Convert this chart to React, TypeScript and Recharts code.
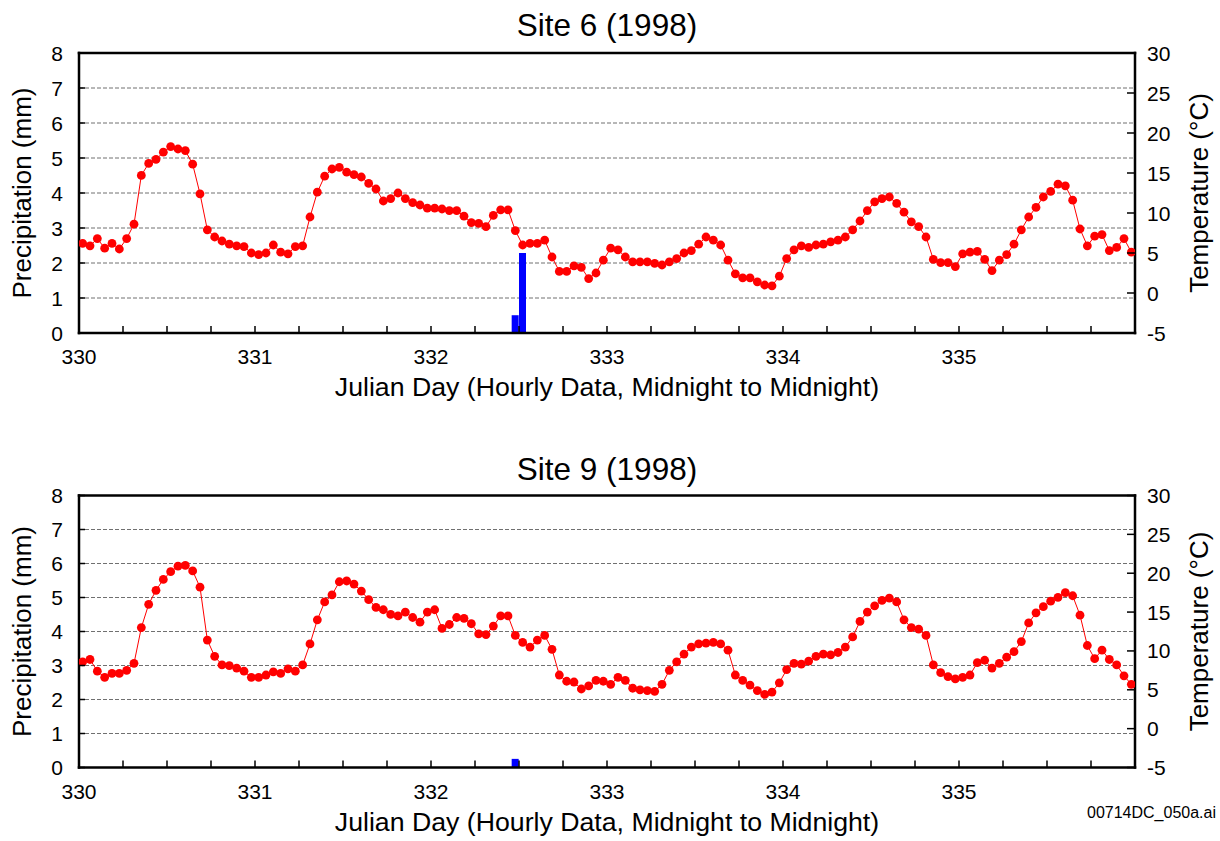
import React from 'react';
import {
  ComposedChart,
  Line,
  Bar,
  XAxis,
  YAxis,
  CartesianGrid,
  ReferenceLine,
} from 'recharts';

const FONT = '"Liberation Sans", Arial, Helvetica, sans-serif';

// Julian day range and labels
const firstDay = 330;
const lastDay = 336;
const dayLabels = [330, 331, 332, 333, 334, 335];

// Axis ticks
const precipTicks = [0, 1, 2, 3, 4, 5, 6, 7, 8];
const tempTicks = [-5, 0, 5, 10, 15, 20, 25, 30];

// Site 6: hourly air temperature (°C), hour 0 = midnight of day 330
const site6Temp = [
  6.2, 5.9, 6.8, 5.6, 6.2, 5.5, 6.8, 8.6, 14.7, 16.2, 16.7, 17.6,
  18.3, 18.0, 17.8, 16.1, 12.4, 7.9, 7.0, 6.5, 6.1, 5.9, 5.8, 5.0,
  4.8, 5.0, 6.0, 5.1, 4.9, 5.8, 5.9, 9.5, 12.6, 14.6, 15.5, 15.7,
  15.1, 14.8, 14.5, 13.7, 13.0, 11.5, 11.8, 12.5, 11.8, 11.3, 11.0, 10.6,
  10.6, 10.5, 10.3, 10.3, 9.6, 8.8, 8.7, 8.3, 9.7, 10.4, 10.4, 7.8,
  6.0, 6.2, 6.2, 6.6, 4.5, 2.7, 2.7, 3.4, 3.2, 1.8, 2.5, 4.1,
  5.6, 5.4, 4.5, 3.9, 3.9, 3.9, 3.7, 3.5, 3.9, 4.3, 5.0, 5.3,
  6.1, 7.0, 6.6, 6.0, 4.1, 2.4, 1.9, 1.9, 1.4, 1.0, 0.9, 2.1,
  4.3, 5.4, 5.9, 5.7, 6.0, 6.1, 6.4, 6.6, 7.0, 7.9, 9.0, 10.3,
  11.4, 11.8, 12.0, 11.2, 10.1, 8.9, 8.3, 7.0, 4.2, 3.8, 3.8, 3.3,
  4.9, 5.1, 5.2, 4.2, 2.8, 4.1, 4.8, 6.1, 7.9, 9.5, 10.7, 12.0,
  12.7, 13.6, 13.4, 11.6, 8.0, 5.9, 7.1, 7.3, 5.3, 5.7, 6.8, 5.1,
];
// Site 6: hours with recorded precipitation (mm)
const site6RainHours = [59, 60];
const site6RainMm = [0.508, 2.286];

// Site 9: hourly air temperature (°C)
const site9Temp = [
  8.6, 8.9, 7.4, 6.6, 7.1, 7.1, 7.5, 8.4, 13.0, 16.0, 17.8, 19.2,
  20.2, 20.9, 21.0, 20.3, 18.2, 11.4, 9.3, 8.2, 8.1, 7.8, 7.4, 6.6,
  6.6, 6.9, 7.3, 7.1, 7.7, 7.4, 8.2, 10.9, 14.0, 16.3, 17.2, 18.9,
  19.0, 18.6, 17.7, 16.6, 15.6, 15.3, 14.7, 14.5, 15.0, 14.3, 13.7, 15.0,
  15.3, 12.9, 13.4, 14.3, 14.2, 13.5, 12.2, 12.1, 13.2, 14.5, 14.5, 12.0,
  11.1, 10.5, 11.4, 12.0, 10.2, 6.9, 6.1, 6.0, 5.1, 5.5, 6.2, 6.1,
  5.7, 6.6, 6.2, 5.2, 5.0, 4.9, 4.8, 5.7, 7.5, 8.6, 9.6, 10.5,
  10.9, 11.0, 11.1, 10.9, 10.1, 6.9, 6.2, 5.6, 4.9, 4.4, 4.7, 5.9,
  7.6, 8.4, 8.3, 8.7, 9.3, 9.6, 9.5, 9.8, 10.5, 11.8, 13.8, 15.0,
  15.8, 16.5, 16.8, 16.3, 14.0, 13.0, 12.8, 12.0, 8.2, 7.2, 6.7, 6.4,
  6.6, 6.9, 8.5, 8.8, 7.8, 8.4, 9.2, 9.9, 11.2, 13.6, 14.9, 15.7,
  16.4, 16.9, 17.5, 17.1, 14.6, 10.7, 9.0, 10.1, 8.9, 8.2, 6.8, 5.7,
];
// Site 9: hours with recorded precipitation (mm)
const site9RainHours = [59];
const site9RainMm = [0.254];

// Tick marks every 6 hours along the day axis
const hourTicks: number[] = [];
for (let d = firstDay; d < lastDay; d++) {
  for (let q = 0; q < 4; q++) hourTicks.push(d + q * 0.25);
}
hourTicks.push(lastDay);

type Row = { day: number; temp: number; rain: number | null };

// Each hourly value is centred in its hour
function buildRows(temps: number[], rainHours: number[], rainMm: number[]): Row[] {
  return temps.map((t, h) => {
    const k = rainHours.indexOf(h);
    return {
      day: firstDay + (h + 0.5) / 24,
      temp: t,
      rain: k >= 0 ? rainMm[k] : null,
    };
  });
}

const site6Rows = buildRows(site6Temp, site6RainHours, site6RainMm);
const site9Rows = buildRows(site9Temp, site9RainHours, site9RainMm);

const frame = { stroke: '#000', strokeWidth: 2.5, strokeLinecap: 'square' as const };

const XTick = (props: any) => {
  const { x, y, payload } = props;
  const v = payload.value as number;
  const day = Math.round(v);
  const showLabel = Math.abs(v - day) < 1e-6 && dayLabels.includes(day);
  return (
    <g>
      <line x1={x} y1={y} x2={x} y2={y - 7} stroke="#000" strokeWidth={1.5} />
      {showLabel && (
        <text x={x} y={y + 31} textAnchor="middle" fontSize={21} fontFamily={FONT} fill="#000">
          {day}
        </text>
      )}
    </g>
  );
};

const LeftTick = (props: any) => {
  const { x, y, payload } = props;
  return (
    <g>
      <line x1={x} y1={y} x2={x + 6} y2={y} stroke="#000" strokeWidth={1.5} />
      <text x={x - 16} y={y + 7.5} textAnchor="end" fontSize={21} fontFamily={FONT} fill="#000">
        {payload.value}
      </text>
    </g>
  );
};

const RightTick = (props: any) => {
  const { x, y, payload } = props;
  return (
    <g>
      <line x1={x} y1={y} x2={x - 8} y2={y} stroke="#000" strokeWidth={1.5} />
      <text x={x + 12} y={y + 7.5} textAnchor="start" fontSize={21} fontFamily={FONT} fill="#000">
        {payload.value}
      </text>
    </g>
  );
};

const xTitle = (props: any) => {
  const vb = props.viewBox;
  return (
    <text x={vb.x + vb.width / 2} y={vb.y + 63} textAnchor="middle" fontSize={26.7} fontFamily={FONT} fill="#000">
      Julian Day (Hourly Data, Midnight to Midnight)
    </text>
  );
};

const leftTitle = (props: any) => {
  const vb = props.viewBox;
  const cx = vb.x + 31;
  const cy = vb.y + vb.height / 2;
  return (
    <text x={cx} y={cy} transform={`rotate(-90, ${cx}, ${cy})`} textAnchor="middle" fontSize={26} fontFamily={FONT} fill="#000">
      Precipitation (mm)
    </text>
  );
};

const rightTitle = (props: any) => {
  const vb = props.viewBox;
  const cx = vb.x + 73;
  const cy = vb.y + vb.height / 2;
  return (
    <text x={cx} y={cy} transform={`rotate(-90, ${cx}, ${cy})`} textAnchor="middle" fontSize={26} fontFamily={FONT} fill="#000">
      Temperature (°C)
    </text>
  );
};

type PanelProps = {
  rows: Row[];
  top: number;
  height: number;
  marginTop: number;
  axisHeight: number;
};

function SitePanel({ rows, top, height, marginTop, axisHeight }: PanelProps) {
  return (
    <div style={{ position: 'absolute', left: 0, top }}>
      <ComposedChart
        width={1220}
        height={height}
        data={rows}
        margin={{ top: marginTop, right: 0, bottom: 0, left: 0 }}
      >
        <CartesianGrid vertical={false} yAxisId="p" stroke="#707070" strokeDasharray="4 2" />
        <XAxis
          dataKey="day"
          type="number"
          domain={[firstDay, lastDay]}
          ticks={hourTicks}
          interval={0}
          tickSize={0}
          tickMargin={0}
          tickLine={false}
          tick={<XTick />}
          axisLine={frame}
          height={axisHeight}
          allowDataOverflow
          label={xTitle}
        />
        <YAxis
          yAxisId="p"
          orientation="left"
          domain={[0, 8]}
          ticks={precipTicks}
          interval={0}
          tickSize={0}
          tickMargin={0}
          tickLine={false}
          tick={<LeftTick />}
          axisLine={frame}
          width={79}
          allowDataOverflow
          label={leftTitle}
        />
        <YAxis
          yAxisId="t"
          orientation="right"
          domain={[-5, 30]}
          ticks={tempTicks}
          interval={0}
          tickSize={0}
          tickMargin={0}
          tickLine={false}
          tick={<RightTick />}
          axisLine={frame}
          width={85}
          allowDataOverflow
          label={rightTitle}
        />
        <ReferenceLine yAxisId="p" y={8} {...frame} />
        <Bar yAxisId="p" dataKey="rain" fill="#0000ff" barSize={7} isAnimationActive={false} />
        <Line
          yAxisId="t"
          dataKey="temp"
          type="linear"
          stroke="#ff0000"
          strokeWidth={1}
          dot={{ r: 4.4, fill: '#ff0000', stroke: '#ff0000', strokeWidth: 0 }}
          activeDot={false}
          isAnimationActive={false}
        />
      </ComposedChart>
    </div>
  );
}

export default function App() {
  return (
    <div
      style={{
        position: 'absolute',
        left: 0,
        top: 0,
        width: 1220,
        height: 841,
        background: '#fff',
        overflow: 'hidden',
      }}
    >
      <SitePanel rows={site6Rows} top={0} height={410} marginTop={53} axisHeight={77} />
      <SitePanel rows={site9Rows} top={443} height={402} marginTop={52.5} axisHeight={77.5} />
      <svg
        width={1220}
        height={841}
        style={{ position: 'absolute', left: 0, top: 0, pointerEvents: 'none' }}
      >
        <text x={607} y={36} textAnchor="middle" fontSize={31.5} fontFamily={FONT} fill="#000">
          Site 6 (1998)
        </text>
        <text x={607} y={480} textAnchor="middle" fontSize={31.5} fontFamily={FONT} fill="#000">
          Site 9 (1998)
        </text>
        <text x={1216} y={818} textAnchor="end" fontSize={16} fontFamily={FONT} fill="#000">
          00714DC_050a.ai
        </text>
      </svg>
    </div>
  );
}
